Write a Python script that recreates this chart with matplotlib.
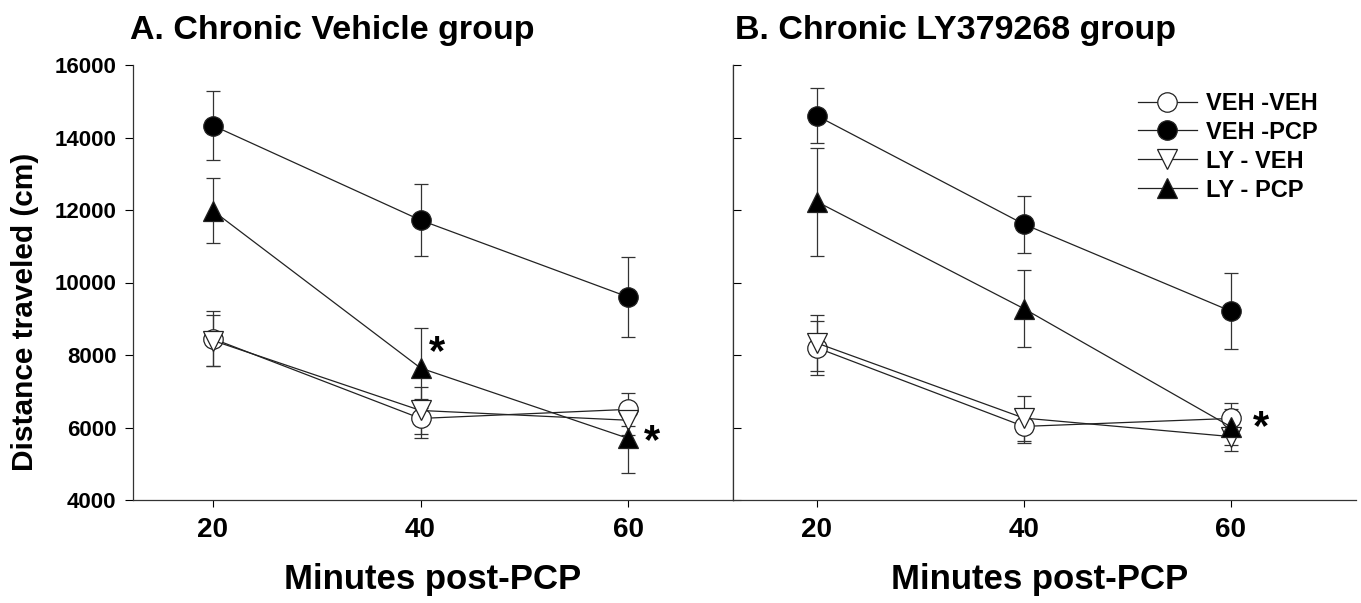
import matplotlib.pyplot as plt

plt.rcParams["font.family"] = ["Liberation Sans", "DejaVu Sans"]
plt.rcParams["font.weight"] = "bold"

minutes = [20, 40, 60]
group_labels = ["VEH -VEH", "VEH -PCP", "LY - VEH", "LY - PCP"]

# A. Chronic Vehicle group
a_veh_veh = [8450, 6250, 6500]
a_veh_veh_err = [760, 550, 450]
a_veh_pcp = [14330, 11720, 9600]
a_veh_pcp_err = [940, 1000, 1090]
a_ly_veh = [8400, 6470, 6200]
a_ly_veh_err = [700, 650, 400]
a_ly_pcp = [11980, 7640, 5700]
a_ly_pcp_err = [890, 1100, 950]

# B. Chronic LY379268 group
b_veh_veh = [8200, 6030, 6250]
b_veh_veh_err = [740, 450, 420]
b_veh_pcp = [14600, 11610, 9210]
b_veh_pcp_err = [760, 790, 1040]
b_ly_veh = [8330, 6260, 5750]
b_ly_veh_err = [770, 620, 390]
b_ly_pcp = [12230, 9280, 6020]
b_ly_pcp_err = [1490, 1070, 500]

# significance marks (x, y)
a_stars = [(41.6, 8050), (62.3, 5600)]
b_stars = [(62.9, 5980)]

styles = [
    {"marker": "o", "mfc": "white"},
    {"marker": "o", "mfc": "black"},
    {"marker": "v", "mfc": "white"},
    {"marker": "^", "mfc": "black"},
]


def plot_panel(ax, series, errors, stars, xlim):
    handles = []
    for vals, errs, style in zip(series, errors, styles):
        ax.errorbar(minutes, vals, yerr=errs, fmt="none", ecolor="#333333",
                    elinewidth=0.9, capsize=5, capthick=0.9, zorder=2)
        (h,) = ax.plot(minutes, vals, color="#222222", lw=0.9,
                       marker=style["marker"], ms=14, mfc=style["mfc"],
                       mec="#222222", mew=0.9, zorder=3)
        handles.append(h)
    for x, y in stars:
        ax.text(x, y, "*", fontsize=30, fontweight="bold", ha="center",
                va="center", zorder=4)
    ax.set_xlim(*xlim)
    ax.set_ylim(4000, 16000)
    ax.set_xticks(minutes)
    ax.set_yticks(range(4000, 16001, 2000))
    ax.tick_params(axis="x", labelsize=20, length=5, width=0.8, pad=7)
    ax.spines["top"].set_visible(False)
    for s in ["left", "bottom", "right"]:
        ax.spines[s].set_linewidth(0.9)
        ax.spines[s].set_color("#333333")
    return handles


fig = plt.figure(figsize=(13.61, 6.03), dpi=100)
ax_a = fig.add_axes([133 / 1361, 1 - 500 / 603, 600 / 1361, 435 / 603])
ax_b = fig.add_axes([733 / 1361, 1 - 500 / 603, 623 / 1361, 435 / 603])

plot_panel(ax_a,
           [a_veh_veh, a_veh_pcp, a_ly_veh, a_ly_pcp],
           [a_veh_veh_err, a_veh_pcp_err, a_ly_veh_err, a_ly_pcp_err],
           a_stars, (12.3, 70.1))
handles = plot_panel(ax_b,
                     [b_veh_veh, b_veh_pcp, b_ly_veh, b_ly_pcp],
                     [b_veh_veh_err, b_veh_pcp_err, b_ly_veh_err, b_ly_pcp_err],
                     b_stars, (11.9, 72.1))

ax_a.tick_params(axis="y", labelsize=16, length=6, width=0.8, pad=6)
ax_b.tick_params(axis="y", direction="in", length=6, width=0.8, labelleft=False)
ax_b.spines["right"].set_visible(False)

fig.legend(handles, group_labels, loc="upper left",
           bbox_to_anchor=(1126 / 1361, 1 - 80 / 603), frameon=False,
           fontsize=17, handlelength=2.5, handletextpad=0.4,
           labelspacing=0.25, borderpad=0)

fig.text(130 / 1361, 1 - 30 / 603, "A. Chronic Vehicle group", fontsize=24.5,
         fontweight="bold", ha="left", va="center")
fig.text(735 / 1361, 1 - 30 / 603, "B. Chronic LY379268 group", fontsize=24.5,
         fontweight="bold", ha="left", va="center")
fig.text(433 / 1361, 1 - 580 / 603, "Minutes post-PCP", fontsize=25,
         fontweight="bold", ha="center", va="center")
fig.text(1040 / 1361, 1 - 580 / 603, "Minutes post-PCP", fontsize=25,
         fontweight="bold", ha="center", va="center")
fig.text(25 / 1361, 1 - 312 / 603, "Distance traveled (cm)", fontsize=21.5,
         fontweight="bold", ha="center", va="center", rotation=90)

fig.savefig("out.png", dpi=100)
